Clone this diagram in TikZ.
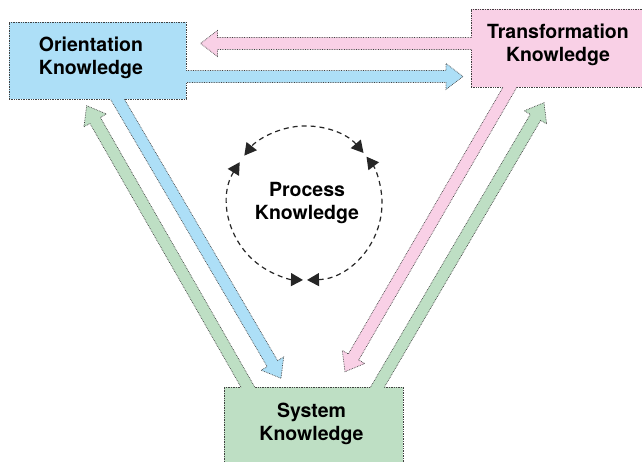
\documentclass[tikz,border=0pt]{standalone}
\usepackage{fontspec}
\setmainfont{TeX Gyre Heros}
\usetikzlibrary{calc,arrows.meta}
\definecolor{oblue}{RGB}{173,223,247}
\definecolor{tpink}{RGB}{249,208,230}
\definecolor{sgreen}{RGB}{190,223,196}
\definecolor{bord}{RGB}{65,65,65}
\newcommand{\fatarr}[5]{%
\path ($(#1)!6pt!90:(#2)$) coordinate (fp1)
      ($(#1)!6pt!-90:(#2)$) coordinate (fp2)
      ($(#2)!17pt!(#1)$) coordinate (fhb);
\path ($(fhb)!6pt!90:(#2)$) coordinate (fb1)
      ($(fhb)!6pt!-90:(#2)$) coordinate (fb2)
      ($(fhb)!13pt!90:(#2)$) coordinate (fh1)
      ($(fhb)!13pt!-90:(#2)$) coordinate (fh2);
\path (intersection of fp1--fb1 and #3--#4) coordinate (fs1)
      (intersection of fp2--fb2 and #3--#4) coordinate (fs2);
\path ($(fs1)!-4pt!(fb1)$) coordinate (fe1)
      ($(fs2)!-4pt!(fb2)$) coordinate (fe2);
\fill[#5] (fe1) -- (fb1) -- (fh1) -- (#2) -- (fh2) -- (fb2) -- (fe2) -- cycle;
\draw[bline] (fs1) -- (fb1) -- (fh1) -- (#2) -- (fh2) -- (fb2) -- (fs2);
}
\begin{document}
\begin{tikzpicture}[x=1pt,y=-1pt,
  bline/.style={draw=bord, densely dotted, line width=0.7pt},
  kbox/.style={bline, rectangle, inner sep=0pt},
  ktext/.style={font=\fontsize{19.5}{23}\selectfont\bfseries, align=center, inner sep=0pt},
  pdash/.style={draw=black!85, dash pattern=on 5pt off 4pt, line width=1.2pt,
    arrows={Triangle[length=12pt,width=13pt]-Triangle[length=12pt,width=13pt]}}]
\useasboundingbox (0,0) rectangle (642,462);
\fill[white] (0,0) rectangle (642,462);
\clip (0,0) rectangle (642,462);

\node[kbox, fill=oblue, minimum width=177pt, minimum height=77pt] (ori) at (97.5,60.5) {};
\node[kbox, fill=tpink, minimum width=174pt, minimum height=78pt] (tra) at (558,48) {};
\node[kbox, fill=sgreen, minimum width=179pt, minimum height=78pt] (sys) at (313.5,426) {};

\coordinate (o1) at (ori.south west);
\coordinate (o2) at (ori.south east);
\coordinate (o3) at (ori.north east);
\coordinate (t1) at (tra.north west);
\coordinate (t2) at (tra.south west);
\coordinate (t3) at (tra.south east);
\coordinate (y1) at (sys.north west);
\coordinate (y2) at (sys.north east);

\coordinate (aPs) at (471,43.5);
\coordinate (aPt) at (200.5,43.5);
\coordinate (aBs) at (186,76.5);
\coordinate (aBt) at (463,76.5);
\coordinate (dBs) at (117.3,99);
\coordinate (dBt) at (281,378.3);
\coordinate (gLs) at (247.8,387);
\coordinate (gLt) at (86.7,105.7);
\coordinate (dPs) at (510,87);
\coordinate (dPt) at (345,371.7);
\coordinate (gRs) at (377.5,387);
\coordinate (gRt) at (544,102.7);

\fatarr{aPs}{aPt}{t1}{t2}{tpink}
\fatarr{aBs}{aBt}{o3}{o2}{oblue}
\fatarr{dBs}{dBt}{o1}{o2}{oblue}
\fatarr{gLs}{gLt}{y1}{y2}{sgreen}
\fatarr{dPs}{dPt}{t2}{t3}{tpink}
\fatarr{gRs}{gRt}{y1}{y2}{sgreen}

\node[ktext] (orit) at (91,58) {Orientation\\Knowledge};
\node[ktext] (trat) at (558,45) {Transformation\\Knowledge};
\node[ktext] (prot) at (307,203) {Process\\Knowledge};
\node[ktext] (syst) at (311.5,424) {System\\Knowledge};

\coordinate (c) at (305,203);
\draw[pdash] ([shift={(c)}]40.5:77pt) arc[start angle=40.5, end angle=142, radius=77pt];
\draw[pdash] ([shift={(c)}]148:77pt) arc[start angle=148, end angle=268.5, radius=77pt];
\draw[pdash] ([shift={(c)}]271.5:77pt) arc[start angle=271.5, end angle=397, radius=77pt];
\end{tikzpicture}
\end{document}
